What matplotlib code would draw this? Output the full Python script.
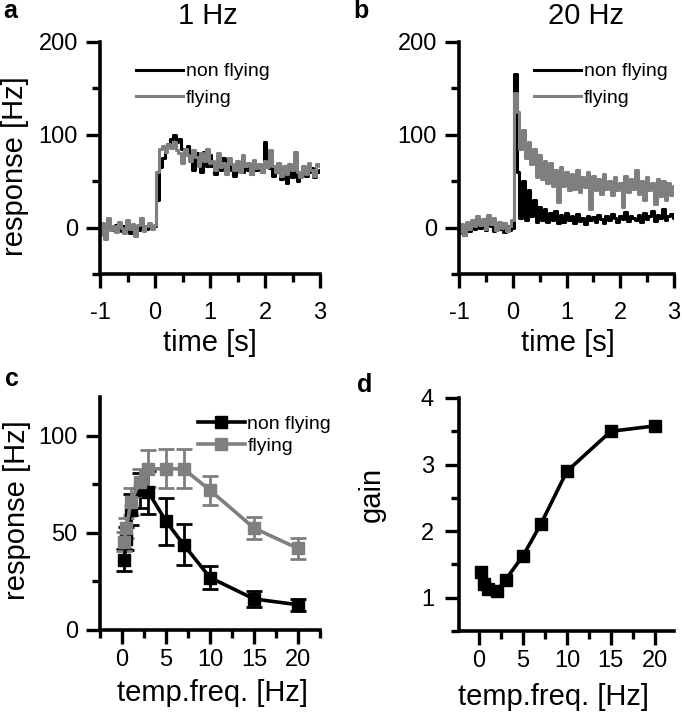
import numpy as np
import matplotlib
matplotlib.use('Agg')
import matplotlib.pyplot as plt
from matplotlib.ticker import MultipleLocator

plt.rcParams['font.family'] = ['Liberation Sans', 'DejaVu Sans']
plt.rcParams['axes.unicode_minus'] = False

# ---- data ----
# PSTH traces, time bins of 0.05 s from -1 to 3 s
t = np.round(np.arange(-1.0, 3.0001, 0.05), 2)

a_nonfly = [-5, 2, -8, 4, 0, -3, 3, 1, -4, 2, 3, -6, 2, 0, -3, 4, 1, -2, 3, 0, 2,
            30, 65, 75, 85, 90, 96, 100, 92, 95, 85, 80, 88, 76, 62, 80, 70, 60, 82, 66, 78,
            66, 58, 70, 62, 75, 60, 68, 62, 56, 70, 64, 60, 66, 62, 58, 68, 62, 64, 60, 92,
            70, 64, 56, 66, 60, 52, 62, 48, 60, 54, 62, 50, 58, 62, 56, 60, 64, 54, 60, 62]
a_fly = [-8, 5, -12, 10, -3, 2, -5, 6, 0, -6, 8, -2, 4, -9, 3, 10, -4, 2, 5, -2, 3,
         60, 85, 88, 82, 90, 86, 92, 84, 80, 70, 85, 78, 72, 84, 76, 66, 80, 72, 85, 70,
         72, 62, 80, 65, 70, 58, 75, 68, 62, 72, 60, 78, 66, 70, 58, 73, 64, 68, 60, 72,
         65, 84, 66, 60, 70, 56, 66, 58, 68, 62, 82, 60, 55, 66, 58, 70, 62, 56, 68, 66]

b_nonfly = [-6, 2, -8, 3, -4, 5, -2, 8, 0, 4, -3, 6, 2, -4, 3, -2, 1, -5, 2, -3, 0,
            165, 60, 10, 50, 8, 40, 12, 30, 6, 22, 8, 20, 6, 16, 8, 18, 5, 14, 6, 16,
            8, 12, 5, 15, 7, 10, 4, 13, 8, 11, 6, 14, 9, 5, 12, 8, 15, 10, 6, 13,
            9, 17, 7, 12, 10, 8, 14, 6, 16, 9, 12, 18, 7, 14, 10, 20, 8, 13, 15, 10]
b_fly = [-5, 4, -8, 6, -2, 8, 2, 12, 3, 9, -2, 14, 4, 10, -3, 6, 0, 5, -4, 2, 8,
         145, 125, 85, 105, 75, 92, 68, 85, 55, 78, 52, 72, 48, 70, 45, 62, 28, 65, 45, 60,
         40, 58, 42, 62, 38, 55, 44, 60, 20, 56, 40, 52, 36, 58, 42, 50, 35, 54, 40, 48,
         22, 56, 38, 52, 42, 62, 36, 50, 30, 54, 40, 48, 25, 52, 34, 50, 30, 48, 35, 45]

# tuning curves
freq = [0.25, 0.5, 1, 2, 3, 5, 7, 10, 15, 20]
resp_nonfly = [36, 47, 62, 72, 71, 56, 44, 27, 16, 13]
err_nonfly = [5.5, 6, 8, 9, 11, 12, 10.5, 6, 4, 3]
resp_fly = [45.5, 52.5, 66, 76, 83, 83, 83, 72, 52.5, 42]
err_fly = [5, 5, 7, 7, 9.5, 10, 10, 7.5, 5.5, 5.5]
gain = [1.38, 1.2, 1.13, 1.1, 1.27, 1.63, 2.1, 2.9, 3.5, 3.58]

BLACK = '#000000'
GRAY = '#7f7f7f'

W, H = 682, 720
fig = plt.figure(figsize=(W / 100, H / 100), dpi=100)


def px_axes(l, t_, r, b):
    return fig.add_axes([l / W, 1 - b / H, (r - l) / W, (b - t_) / H])


def style(ax):
    for s in ('top', 'right'):
        ax.spines[s].set_visible(False)
    for s in ('left', 'bottom'):
        ax.spines[s].set_linewidth(2.6)
    ax.tick_params(which='major', direction='out', length=10, width=2.4, labelsize=17)
    ax.tick_params(which='minor', direction='out', length=6, width=2.4)


ax_a = px_axes(100, 42, 320, 274)
ax_b = px_axes(459, 42, 674, 274)
ax_c = px_axes(100, 397, 320, 630)
ax_d = px_axes(459, 398, 674, 631)

for ax, nf, fl in ((ax_a, a_nonfly, a_fly), (ax_b, b_nonfly, b_fly)):
    ax.plot(t, nf, color=BLACK, lw=2.2, drawstyle='steps-mid', label='non flying')
    ax.plot(t, fl, color=GRAY, lw=2.2, drawstyle='steps-mid', label='flying')
    style(ax)
    ax.set_xlim(-1, 3)
    ax.set_ylim(-50, 200)
    ax.xaxis.set_major_locator(MultipleLocator(1))
    ax.xaxis.set_minor_locator(MultipleLocator(0.5))
    ax.yaxis.set_major_locator(MultipleLocator(100))
    ax.yaxis.set_minor_locator(MultipleLocator(50))
    ax.tick_params(axis='x', which='major', pad=10)
    ax.tick_params(axis='y', which='major', pad=6)
    ax.legend(loc='upper left', frameon=False, fontsize=14, handlelength=2.4,
              handletextpad=0.15, labelspacing=0.45, borderpad=0, borderaxespad=0,
              bbox_to_anchor=(0.164 if ax is ax_a else 0.349, 0.91))
    ax.set_xlabel('time [s]', fontsize=21, va='center')
    ax.xaxis.set_label_coords(0.5 if ax is ax_a else 0.507, -0.297)

ax_a.set_ylabel('response [Hz]', fontsize=21, va='center')
ax_a.yaxis.set_label_coords(-0.386, 0.466)

# panel c
eb_nf = ax_c.errorbar(freq, resp_nonfly, yerr=err_nonfly, color=BLACK, lw=2.6, marker='s',
                      ms=8, elinewidth=2, capsize=5.5, capthick=2)
eb_fl = ax_c.errorbar(freq, resp_fly, yerr=err_fly, color=GRAY, lw=2.6, marker='s',
                      ms=8, elinewidth=2, capsize=5.5, capthick=2)
style(ax_c)
ax_c.set_xlim(-2.5, 22.5)
ax_c.set_ylim(0, 120)
ax_c.xaxis.set_major_locator(MultipleLocator(5))
ax_c.xaxis.set_minor_locator(MultipleLocator(2.5))
ax_c.yaxis.set_major_locator(MultipleLocator(50))
ax_c.yaxis.set_minor_locator(MultipleLocator(25))
ax_c.tick_params(axis='x', which='major', pad=4)
ax_c.tick_params(axis='y', which='major', pad=6)
ax_c.legend([eb_nf[0], eb_fl[0]], ['non flying', 'flying'], loc='upper left',
            frameon=False, fontsize=14, handlelength=2.4, handletextpad=0.15,
            labelspacing=0.2, borderpad=0, borderaxespad=0,
            bbox_to_anchor=(0.445, 0.92))
ax_c.set_xlabel('temp.freq. [Hz]', fontsize=21, va='center')
ax_c.xaxis.set_label_coords(0.51, -0.27)
ax_c.set_ylabel('response [Hz]', fontsize=21, va='center')
ax_c.yaxis.set_label_coords(-0.377, 0.515)

# panel d
ax_d.plot(freq, gain, color=BLACK, lw=2.6, marker='s', ms=8.5)
style(ax_d)
ax_d.set_xlim(-2.3, 22.2)
ax_d.set_ylim(0.5, 4)
ax_d.xaxis.set_major_locator(MultipleLocator(5))
ax_d.xaxis.set_minor_locator(MultipleLocator(2.5))
ax_d.yaxis.set_major_locator(MultipleLocator(1))
ax_d.yaxis.set_minor_locator(MultipleLocator(0.5))
ax_d.tick_params(axis='x', which='major', pad=4)
ax_d.tick_params(axis='y', which='major', pad=8)
ax_d.set_xlabel('temp.freq. [Hz]', fontsize=21, va='center')
ax_d.xaxis.set_label_coords(0.44, -0.283)
ax_d.set_ylabel('gain', fontsize=21, va='center')
ax_d.yaxis.set_label_coords(-0.405, 0.588)

# titles and panel letters
fig.text(208 / W, 1 - 16 / H, '1 Hz', fontsize=21, ha='center', va='center')
fig.text(586 / W, 1 - 16 / H, '20 Hz', fontsize=21, ha='center', va='center')
for x, y, s in ((10, 18, 'a'), (361, 18, 'b'), (12, 386, 'c'), (365, 392, 'd')):
    fig.text(x / W, 1 - y / H, s, fontsize=18, fontweight='bold', ha='center', va='baseline')

fig.savefig('out.png', dpi=100)
